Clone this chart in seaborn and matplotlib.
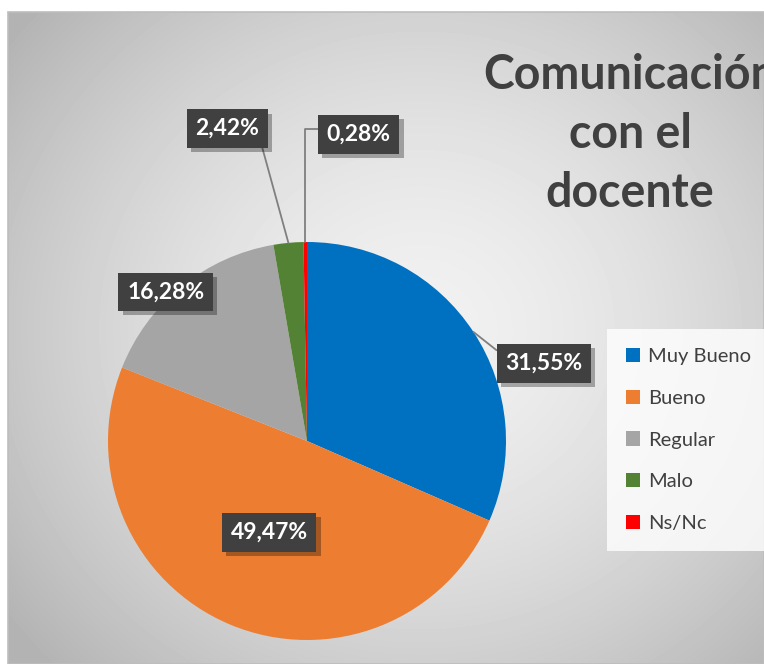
import numpy as np
import matplotlib
matplotlib.use("Agg")
import matplotlib.pyplot as plt
import matplotlib.patheffects as pe
from matplotlib.patches import Patch
import seaborn as sns

# ---------- data ----------
categorias = ["Muy Bueno", "Bueno", "Regular", "Malo", "Ns/Nc"]
porcentajes = [31.55, 49.47, 16.28, 2.42, 0.28]
colores = ["#0070C0", "#ED7D31", "#A5A5A5", "#548235", "#FF0000"]
titulo = "Comunicación\ncon el\ndocente"

# label placement (pie radius units), one per category
label_pos = [(1.19, 0.39), (-0.19, -0.46), (-0.71, 0.75), (-0.40, 1.57), (0.26, 1.54)]

sns.set_theme(style="white")
plt.rcParams["font.family"] = ["Lato", "DejaVu Sans"]

W, H = 764, 664
fig = plt.figure(figsize=(W / 100, H / 100), dpi=100)
fig.patch.set_facecolor("white")

# ---------- gradient background ----------
bg = fig.add_axes([8 / W, 0, (W - 8) / W, (H - 12) / H])
yy, xx = np.mgrid[12:H, 8:W]
d = np.sqrt(((xx - 420) / 430.0) ** 2 + ((yy - 330) / 400.0) ** 2)
grad = 0.945 - 0.18 * np.clip(d, 0, 1.2) ** 1.6
bg.imshow(grad, cmap="gray", vmin=0, vmax=1, aspect="auto", interpolation="bilinear")
bg.set_axis_off()
fig.add_artist(plt.Rectangle((8 / W, 0), (W - 8) / W, (H - 12) / H, transform=fig.transFigure,
                             fill=False, edgecolor="#bdbdbd", linewidth=1.2))

# ---------- pie ----------
cx, cy, r = 307, 441, 199
ax = fig.add_axes([(cx - r) / W, (H - cy - r) / H, 2 * r / W, 2 * r / H])
palette = sns.color_palette(colores)
wedges, _ = ax.pie(porcentajes, colors=palette, startangle=90, counterclock=False,
                   radius=1, wedgeprops=dict(linewidth=0))
ax.set_xlim(-1, 1)
ax.set_ylim(-1, 1)
ax.set_axis_off()

cum = np.cumsum([0] + porcentajes)
for i, (val, (tx, ty)) in enumerate(zip(porcentajes, label_pos)):
    mid = (cum[i] + val / 2) / 100 * 2 * np.pi
    px, py = np.sin(mid), np.cos(mid)
    texto = f"{val:.2f}%".replace(".", ",")
    arrow = None
    if i == 0:
        arrow = dict(arrowstyle="-", color="#7f7f7f", lw=1.3, relpos=(0, 0.8),
                     shrinkA=0, shrinkB=0)
    elif i == 3:
        arrow = dict(arrowstyle="-", color="#7f7f7f", lw=1.3, relpos=(1, 0.1),
                     shrinkA=0, shrinkB=0)
    elif i == 4:
        arrow = dict(arrowstyle="-", color="#7f7f7f", lw=1.3, relpos=(0, 0.78),
                     connectionstyle="angle,angleA=180,angleB=90,rad=0",
                     shrinkA=0, shrinkB=0)
    t = ax.annotate(texto, xy=(px, py), xytext=(tx, ty), textcoords="data",
                    ha="center", va="center", fontsize=16.5, fontweight="bold",
                    color="white", annotation_clip=False, arrowprops=arrow,
                    bbox=dict(boxstyle="square,pad=0.38", facecolor="#404040",
                              edgecolor="none", linewidth=0))
    t.get_bbox_patch().set_path_effects([
        pe.SimplePatchShadow(offset=(3, -3), shadow_rgbFace="black", alpha=0.3),
        pe.Normal()])

# ---------- title ----------
fig.text(630 / W, 1 - 134 / H, titulo, ha="center", va="center", fontsize=33.5,
         fontweight="bold", color="#404040", linespacing=1.42)

# ---------- legend ----------
handles = [Patch(facecolor=c, edgecolor="none") for c in palette]
leg = fig.legend(handles, categorias, loc="center left",
                 bbox_to_anchor=(607 / W, 1 - 440 / H), fontsize=14.5,
                 frameon=True, fancybox=False, labelspacing=1.22,
                 handlelength=0.7, handleheight=0.7, handletextpad=0.4,
                 borderpad=0.95, borderaxespad=0)
leg.get_frame().set_facecolor((1, 1, 1, 0.45))
leg.get_frame().set_edgecolor("none")
for txt in leg.get_texts():
    txt.set_color("#404040")

fig.savefig("out.png", dpi=100)
